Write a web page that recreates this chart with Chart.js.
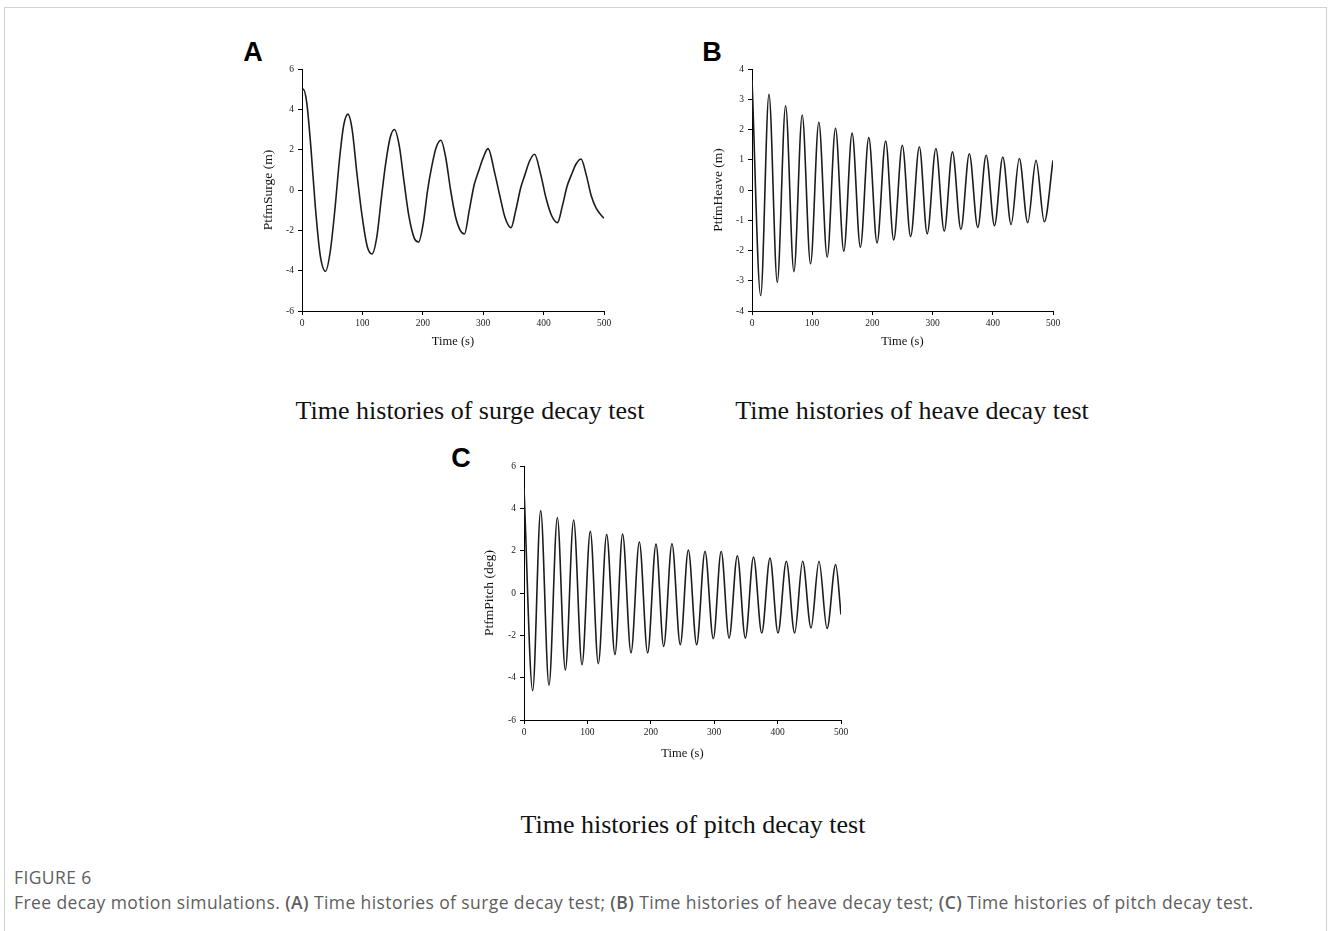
<!DOCTYPE html>
<html>
<head>
<meta charset="utf-8">
<script src="https://cdn.jsdelivr.net/npm/chart.js"></script>
<style>
  body { margin: 0; background: #fff; width: 1328px; height: 931px; overflow: hidden; position: relative; }
  .frame { position: absolute; left: 4px; top: 7px; width: 1321px; height: 940px; border: 1px solid #d2d2d2; border-bottom: none; }
  canvas { position: absolute; }
  .letter { position: absolute; font-family: "Liberation Sans", Arial, sans-serif; font-weight: bold; font-size: 27px; line-height: 30px; width: 40px; text-align: center; color: #000; }
  .sub { position: absolute; width: 600px; text-align: center; font-family: "Liberation Serif", "Times New Roman", serif; font-size: 26px; line-height: 30px; color: #111; }
  .cap { position: absolute; left: 14px; font-family: "Open Sans", Lato, sans-serif; color: #5e5e5e; white-space: nowrap; font-size: 17.5px; line-height: 24px; letter-spacing: 0.4px; }
</style>
</head>
<body>
<div class="frame"></div>

<div class="letter" style="left:233px; top:37px;">A</div>
<div class="letter" style="left:692px; top:37px;">B</div>
<div class="letter" style="left:441px; top:443px;">C</div>

<canvas id="surgeChart" width="366" height="302" style="left:252px; top:59px;"></canvas>
<canvas id="heaveChart" width="365" height="302" style="left:702px; top:59px;"></canvas>
<canvas id="pitchChart" width="381" height="314" style="left:474px; top:456px;"></canvas>

<div class="sub" style="left:170px; top:396px;">Time histories of surge decay test</div>
<div class="sub" style="left:612px; top:396px;">Time histories of heave decay test</div>
<div class="sub" style="left:393px; top:810px;">Time histories of pitch decay test</div>

<div class="cap" style="top:865px;">FIGURE 6</div>
<div class="cap" style="top:890px;">Free decay motion simulations. <b style="font-weight:600">(A)</b> Time histories of surge decay test; <b style="font-weight:600">(B)</b> Time histories of heave decay test; <b style="font-weight:600">(C)</b> Time histories of pitch decay test.</div>

<script>
// values (time in s)
const surgeTime = [0, 2, 8, 15, 22, 30, 39, 47, 55, 62, 69, 76, 83, 91, 100, 108, 116, 124, 131, 138, 146, 153,
  161, 169, 177, 186, 193, 201, 208, 215, 222, 230, 238, 246, 254, 262, 269, 277, 285, 292, 300, 308,
  319, 328, 336, 346, 354, 362, 369, 377, 385, 395, 404, 413, 423, 431, 439, 446, 454, 462, 471, 479, 487, 494, 500];
const surgeValue = [4.9, 5.0, 4.3, 2.0, -0.8, -3.2, -4.03, -3.0, -0.8, 1.5, 3.2, 3.76, 3.0, 0.8, -1.4, -2.8, -3.17, -2.3, -0.5, 1.2, 2.6, 3.0,
  2.2, 0.4, -1.3, -2.4, -2.58, -1.6, 0.0, 1.2, 2.1, 2.47, 1.6, 0.0, -1.3, -2.0, -2.18, -1.0, 0.25, 0.9, 1.6, 2.05,
  0.85, -0.35, -1.35, -1.87, -1.0, 0.1, 0.75, 1.45, 1.77, 0.8, -0.4, -1.25, -1.62, -0.8, 0.2, 0.75, 1.3, 1.54, 0.7, -0.3, -0.9, -1.2, -1.4];

const heaveTime = [0, 14.4, 28.2, 42, 55.8, 69.6, 83.4, 97.2, 111, 124.9, 138.7, 152.5, 166.3, 180, 194, 207.7, 222, 235.4, 249.7, 263.5,
  278, 291, 305.5, 319.3, 333, 347, 361, 375, 389, 402.8, 416.6, 430.4, 444, 458, 471.8, 485.6, 500];
const heaveValue = [3.65, -3.49, 3.16, -3.05, 2.78, -2.70, 2.48, -2.44, 2.24, -2.22, 2.04, -2.02, 1.88, -1.89, 1.73, -1.75, 1.62, -1.65, 1.48, -1.54,
  1.43, -1.45, 1.37, -1.36, 1.26, -1.30, 1.20, -1.24, 1.15, -1.18, 1.09, -1.14, 1.04, -1.08, 0.98, -1.05, 0.98];

const pitchTime = [0, 13.7, 26.3, 39.4, 52.6, 65.2, 78.3, 91.5, 104.6, 117.2, 130.4, 143.5, 155.5, 168.8, 181.9, 195, 208.2, 220.3, 233.4, 246.5,
  259.2, 272.3, 285.5, 298.6, 311, 323.5, 336.5, 349.1, 362, 375, 388, 400.6, 413.8, 426.9, 439.5, 452.7, 465.3, 478, 491.6, 500];
const pitchValue = [4.95, -4.61, 3.89, -4.36, 3.57, -3.64, 3.45, -3.39, 2.91, -3.34, 2.76, -2.91, 2.79, -2.83, 2.41, -2.83, 2.31, -2.52, 2.33, -2.44,
  2.03, -2.44, 1.97, -2.16, 1.97, -2.13, 1.76, -2.13, 1.70, -1.89, 1.65, -1.89, 1.50, -1.89, 1.50, -1.65, 1.50, -1.68, 1.34, -1.02];

const timeTicks = [0, 100, 200, 300, 400, 500];
const surgeTicks = [-6, -4, -2, 0, 2, 4, 6];
const heaveTicks = [-4, -3, -2, -1, 0, 1, 2, 3, 4];
const pitchTicks = [-6, -4, -2, 0, 2, 4, 6];

const serif = '"Liberation Serif", "Times New Roman", serif';

function useTicks(values) {
    return (scale) => { scale.ticks = values.map(v => ({ value: v })); };
}

function axisBase() {
    return {
        type: 'linear',
        grid: { drawOnChartArea: false, drawTicks: true, tickLength: 4, color: '#000', lineWidth: 1 },
        border: { display: true, color: '#000', width: 1 },
        ticks: { color: '#1a1a1a', padding: 3, font: { family: serif, size: 9.5 } }
    };
}

function makePanel(id, times, values, yTicks, yTitle, yTitlePad, xTitlePad) {
    const ctx = document.getElementById(id).getContext('2d');
    const xAxis = axisBase();
    xAxis.min = 0;
    xAxis.max = 500;
    xAxis.afterBuildTicks = useTicks(timeTicks);
    xAxis.afterFit = (s) => { s.height = 50; };
    xAxis.ticks.maxRotation = 0;
    xAxis.title = { display: true, text: 'Time (s)', color: '#111', font: { family: serif, size: 12.5 }, padding: { top: 0, bottom: xTitlePad } };

    const yAxis = axisBase();
    yAxis.min = yTicks[0];
    yAxis.max = yTicks[yTicks.length - 1];
    yAxis.afterBuildTicks = useTicks(yTicks);
    yAxis.afterFit = (s) => { s.width = 50; };
    yAxis.ticks.padding = 4;
    yAxis.title = { display: true, text: yTitle, color: '#111', font: { family: serif, size: 13.5 }, padding: { top: yTitlePad, bottom: 0 } };

    return new Chart(ctx, {
        type: 'line',
        data: {
            datasets: [{
                data: times.map((t, i) => ({ x: t, y: values[i] })),
                borderColor: '#1c1c1c',
                borderWidth: 1.6,
                pointRadius: 0,
                fill: false,
                cubicInterpolationMode: 'monotone'
            }]
        },
        options: {
            responsive: false,
            animation: false,
            devicePixelRatio: 1,
            layout: { padding: { top: 10, right: 14, left: 0, bottom: 0 } },
            plugins: { legend: { display: false }, tooltip: { enabled: false } },
            scales: { x: xAxis, y: yAxis }
        }
    });
}

function init() {
    makePanel('surgeChart', surgeTime, surgeValue, surgeTicks, 'PtfmSurge (m)', 8, 11.5);
    makePanel('heaveChart', heaveTime, heaveValue, heaveTicks, 'PtfmHeave (m)', 8, 11.5);
    makePanel('pitchChart', pitchTime, pitchValue, pitchTicks, 'PtfmPitch (deg)', 7, 8.5);
}

window.onload = init;
</script>
</body>
</html>
